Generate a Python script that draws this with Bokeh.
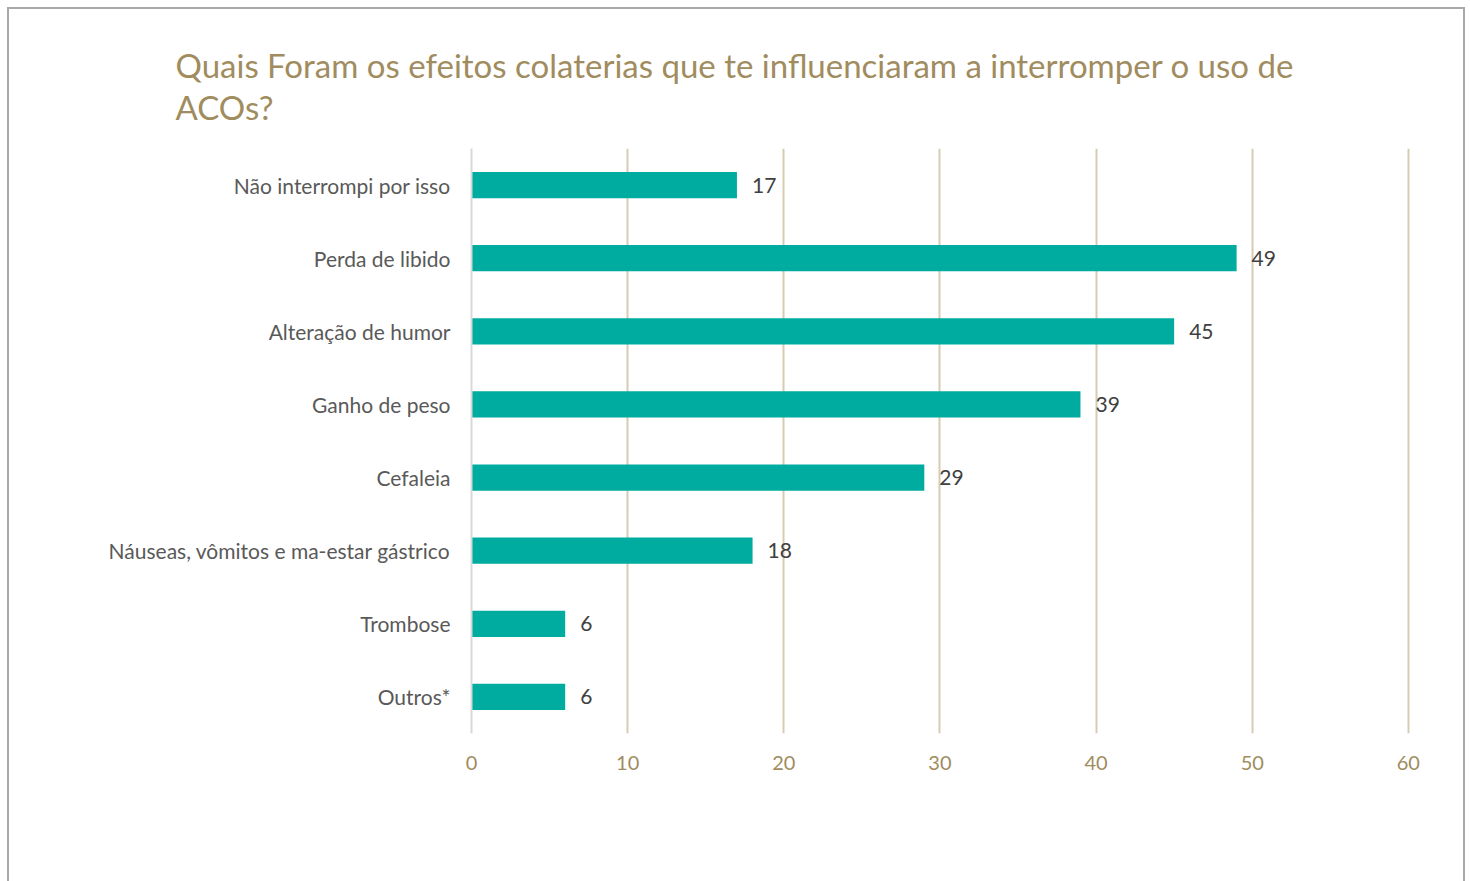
from bokeh.plotting import figure
from bokeh.models import FactorRange, Range1d, Title, ColumnDataSource, FixedTicker
from bokeh.core.properties import value
from bokeh.embed import file_html
from bokeh.resources import INLINE

title_lines = ["Quais Foram os efeitos colaterias que te influenciaram a interromper o uso de", "ACOs?"]
categories = ["Não interrompi por isso", "Perda de libido", "Alteração de humor", "Ganho de peso",
              "Cefaleia", "Náuseas, vômitos e ma-estar gástrico", "Trombose", "Outros*"]
counts = [17, 49, 45, 39, 29, 18, 6, 6]
x_ticks = [0, 10, 20, 30, 40, 50, 60]

FONT = "Lato"
BAR = "#00ab9f"
TAN = "#a08c5e"

src = ColumnDataSource(dict(cat=categories, val=counts, lab=[str(v) for v in counts]))

p = figure(width=1458, height=874, output_backend="svg", toolbar_location=None,
           y_range=FactorRange(factors=categories[::-1], range_padding=0),
           x_range=Range1d(0, 60.2),
           min_border_left=462, min_border_right=56, min_border_top=139, min_border_bottom=150)
p.margin = (7, 0, 0, 7)
p.styles = {"border-left": "2px solid #a9a9a9", "border-top": "2px solid #a9a9a9",
            "border-right": "2px solid #a9a9a9", "box-sizing": "border-box"}
p.background_fill_color = "white"
p.border_fill_color = "white"
p.outline_line_color = None

p.hbar(y="cat", right="val", left=0, height=0.36, source=src, color=BAR, line_color=None)
p.text(x="val", y="cat", text="lab", source=src, x_offset=15, text_baseline="middle",
       text_align="left", text_font=value(FONT), text_font_size="21px", text_color="#404040")

p.xgrid.ticker = FixedTicker(ticks=x_ticks)
p.xgrid.grid_line_color = "#d6ccb2"
p.xgrid.grid_line_width = 2
p.ygrid.grid_line_color = None

p.xaxis.ticker = FixedTicker(ticks=x_ticks)
p.xaxis.axis_line_color = None
p.xaxis.major_tick_line_color = None
p.xaxis.minor_tick_line_color = None
p.xaxis.major_label_standoff = 16
p.xaxis.major_label_text_font = FONT
p.xaxis.major_label_text_font_size = "20px"
p.xaxis.major_label_text_color = TAN

p.yaxis.axis_line_color = "#d9d9d9"
p.yaxis.axis_line_width = 2
p.yaxis.major_tick_line_color = None
p.yaxis.minor_tick_line_color = None
p.yaxis.major_label_standoff = 15
p.yaxis.major_label_text_font = FONT
p.yaxis.major_label_text_font_size = "21px"
p.yaxis.major_label_text_color = "#595959"

p.add_layout(Title(text="\n".join(title_lines), align="left", offset=-296, text_font=FONT,
                   text_font_size="33px", text_line_height=1.05, text_font_style="normal",
                   text_color=TAN, standoff=40, vertical_align="top"), "above")

open("out.html", "w").write(file_html(p, INLINE))
